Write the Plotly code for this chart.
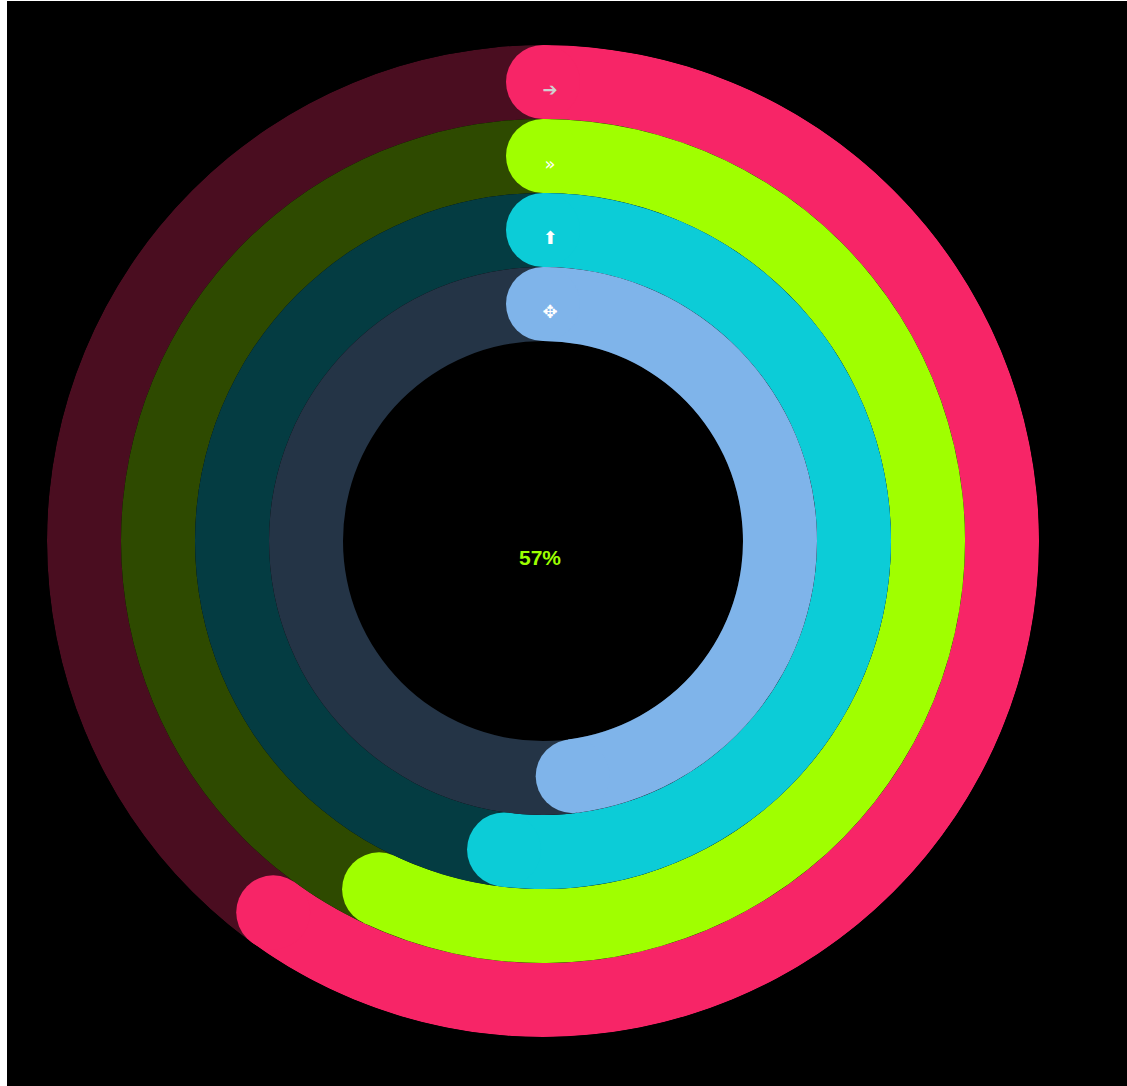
import plotly.graph_objects as go

# Data
names = ["Move", "Exercise", "Stand", "Active"]
values = [60, 57, 52, 48]          # percent complete, outer -> inner
colors = ["#F72567", "#A0FF00", "#0CCCD7", "#7FB4EA"]
tracks = ["#4A0D20", "#2E4A00", "#043C42", "#243446"]
icons = ["➔", "»", "⬆", "✥"]
icon_colors = ["#D0D0D0", "#FFFFFF", "#FFFFFF", "#FFFFFF"]
center_label = "57%"

W, H = 1120, 1085
R_OUT = 496
RING = 74
cx, cy = 536, 540  # pixel centre of rings within the figure

fig = go.Figure()
for i, (v, c, t) in enumerate(zip(values, colors, tracks)):
    base = R_OUT - (i + 1) * RING
    mid = base + RING / 2
    span = v * 3.6
    fig.add_trace(go.Barpolar(r=[RING], base=[base], theta=[180], width=[360],
                              marker=dict(color=t, line=dict(width=0)), hoverinfo="skip"))
    fig.add_trace(go.Barpolar(r=[RING], base=[base], theta=[span / 2], width=[span],
                              marker=dict(color=c, line=dict(width=0)), name=names[i]))
    fig.add_trace(go.Scatterpolar(r=[mid, mid], theta=[0, span], mode="markers",
                                  marker=dict(size=RING, color=c, line=dict(width=0)),
                                  hoverinfo="skip"))
    ri = mid - 9
    fig.add_trace(go.Scatterpolar(r=[ri], theta=[0.9 * 450 / ri], mode="text", text=[icons[i]],
                                  textfont=dict(size=18, color=icon_colors[i], family="DejaVu Sans"),
                                  hoverinfo="skip"))

d = R_OUT
fig.update_layout(
    width=W, height=H,
    margin=dict(l=0, r=0, t=0, b=0),
    paper_bgcolor="black", plot_bgcolor="black",
    showlegend=False,
    polar=dict(
        bgcolor="black",
        domain=dict(x=[(cx - d) / W, (cx + d) / W], y=[1 - (cy + d) / H, 1 - (cy - d) / H]),
        radialaxis=dict(range=[0, R_OUT], visible=False),
        angularaxis=dict(rotation=90, direction="clockwise", visible=False),
        bargap=0,
    ),
    annotations=[dict(x=(cx - 3) / W, y=1 - 556 / H, xref="paper", yref="paper",
                      text=f"<b>{center_label}</b>", showarrow=False,
                      font=dict(size=21, color="#9DFF00", family="Liberation Sans"))],
)
fig.write_html("out.html",
               post_script="document.body.style.margin='1px 0 0 7px';document.body.style.overflow='hidden';")
